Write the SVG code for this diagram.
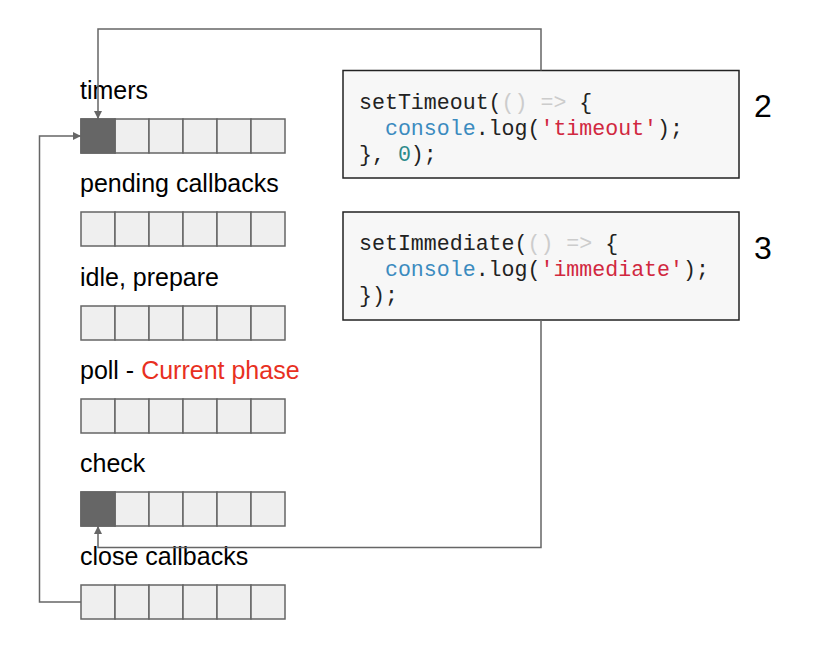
<svg xmlns="http://www.w3.org/2000/svg" width="816" height="650" viewBox="0 0 816 650">
<style>
.lbl{font-family:"Liberation Sans",Arial,sans-serif;font-size:25px;fill:#000}
.num{font-family:"Liberation Sans",Arial,sans-serif;font-size:32px;fill:#000}
.code{font-family:"Liberation Mono","Courier New",monospace;font-size:21.6px;fill:#222;white-space:pre}
.box{fill:#f7f7f7;stroke:#222;stroke-width:1.5}
.cell{fill:#efefef;stroke:#666;stroke-width:1.5}
.cell.on{fill:#666}
.conn{fill:none;stroke:#666;stroke-width:1.5}
.b{fill:#3b8bbf}.r{fill:#d1283f}.g{fill:#cccccc}.t{fill:#2b8a8a}
</style>
<defs>
<marker id="ah" viewBox="0 0 10 10" refX="10" refY="5" markerWidth="10" markerHeight="8" markerUnits="userSpaceOnUse" orient="auto">
<path d="M0,0L10,5L0,10z" fill="#666"/>
</marker>
<g id="q">
<rect class="cell" x="0" y="0" width="34" height="34"/>
<rect class="cell" x="34" y="0" width="34" height="34"/>
<rect class="cell" x="68" y="0" width="34" height="34"/>
<rect class="cell" x="102" y="0" width="34" height="34"/>
<rect class="cell" x="136" y="0" width="34" height="34"/>
<rect class="cell" x="170" y="0" width="34" height="34"/>
</g>
</defs>
<rect width="816" height="650" fill="#fff"/>

<g id="timers">
<text class="lbl" x="80" y="98.5">timers</text>
<use href="#q" x="81" y="119"/>
<rect class="cell on" x="81" y="119" width="34" height="34"/>
</g>
<g id="pending">
<text class="lbl" x="80" y="191.5">pending callbacks</text>
<use href="#q" x="81" y="212"/>
</g>
<g id="idle">
<text class="lbl" x="80" y="285.5">idle, prepare</text>
<use href="#q" x="81" y="306"/>
</g>
<g id="poll">
<text class="lbl" x="80" y="378.5">poll - <tspan fill="#e8301f">Current phase</tspan></text>
<use href="#q" x="81" y="399"/>
</g>
<g id="check">
<text class="lbl" x="80" y="471.5">check</text>
<use href="#q" x="81" y="492"/>
<rect class="cell on" x="81" y="492" width="34" height="34"/>
</g>
<g id="close">
<text class="lbl" x="80" y="564.5">close callbacks</text>
<use href="#q" x="81" y="585"/>
</g>

<g id="setTimeout">
<rect class="box" x="343" y="70.5" width="396" height="107.5"/>
<text class="code" x="359" y="108.5">setTimeout(<tspan class="g">() =&gt;</tspan> {</text>
<text class="code" x="359" y="134.5">  <tspan class="b">console</tspan>.log(<tspan class="r">'timeout'</tspan>);</text>
<text class="code" x="359" y="160.5">}, <tspan class="t">0</tspan>);</text>
<text class="num" x="754" y="117">2</text>
</g>
<g id="setImmediate">
<rect class="box" x="343" y="212" width="396" height="108"/>
<text class="code" x="359" y="250">setImmediate(<tspan class="g">() =&gt;</tspan> {</text>
<text class="code" x="359" y="276">  <tspan class="b">console</tspan>.log(<tspan class="r">'immediate'</tspan>);</text>
<text class="code" x="359" y="302">});</text>
<text class="num" x="754" y="259">3</text>
</g>

<g id="connectors">
<path class="conn" d="M541,70.5V29H98V119" marker-end="url(#ah)"/>
<path class="conn" d="M81,602H39.5V136H81" marker-end="url(#ah)"/>
<path class="conn" d="M541,320V547.5H98V526" marker-end="url(#ah)"/>
</g>
</svg>
